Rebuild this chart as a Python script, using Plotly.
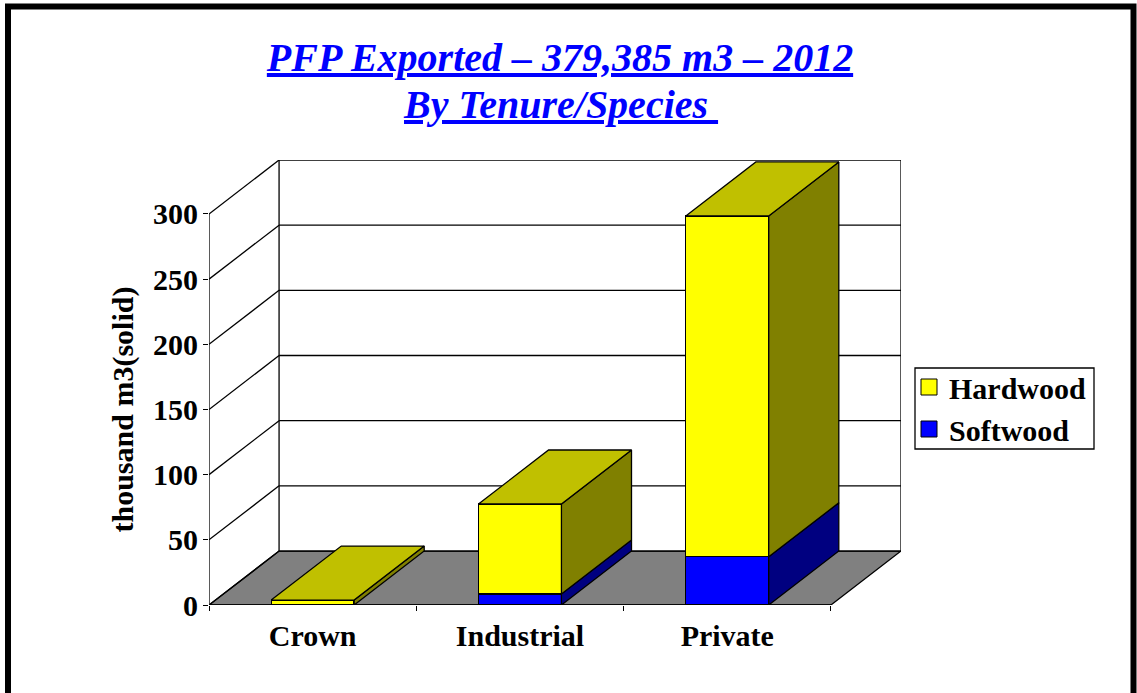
import plotly.graph_objects as go

categories = ["Crown", "Industrial", "Private"]
softwood = [0.0, 8.5, 37.0]
hardwood = [3.8, 69.0, 261.5]
y_ticks = [0, 50, 100, 150, 200, 250, 300]

# Depth of the pseudo-3D box, in axis units
DX = 0.338
DY = 41.4
BAR_W = 0.4
XL, XR = -0.5, 2.5
YMAX = 300
FONT = "Liberation Serif"
W, H = 1137, 693
L, R, T, B = 209, 901, 160, 605
LW = 1.3

fig = go.Figure()


def px(p):
    return (p - L) / (R - L)


def py(p):
    return (B - p) / (B - T)


def line(x0, y0, x1, y1, color="black", width=LW, layer="below"):
    fig.add_shape(type="line", x0=x0, y0=y0, x1=x1, y1=y1, xref="x", yref="y",
                  layer=layer, line=dict(color=color, width=width))


# Floor
fig.add_shape(type="path", xref="x", yref="y", layer="below",
              path=f"M{XL},0 L{XL+DX},{DY} L{XR+DX},{DY} L{XR},0 Z",
              fillcolor="#808080", line=dict(color="black", width=LW))
# Back wall, side wall and gridlines
for v in y_ticks:
    line(XL, v, XL + DX, v + DY)
    line(XL + DX, v + DY, XR + DX, v + DY)
line(XL + DX, DY, XL + DX, YMAX + DY)
line(XR + DX, DY, XR + DX, YMAX + DY)
line(XL, 0, XL, YMAX)
line(XL, 0, XR, 0, layer="above")


def face(xs, ys, color):
    fig.add_trace(go.Scatter(x=xs, y=ys, mode="lines", fill="toself", fillcolor=color,
                             line=dict(color="black", width=LW), showlegend=False,
                             hoverinfo="skip"))


# Front faces
fig.add_trace(go.Bar(x=list(range(3)), y=softwood, width=BAR_W, marker=dict(color="#0000FF", line=dict(color="black", width=LW)), showlegend=False, name="Softwood"))
fig.add_trace(go.Bar(x=list(range(3)), y=hardwood, width=BAR_W, marker=dict(color="#FFFF00", line=dict(color="black", width=LW)), showlegend=False, name="Hardwood"))

# Side and top faces
for i in range(3):
    s, h = softwood[i], softwood[i] + hardwood[i]
    xl, xr = i - BAR_W / 2, i + BAR_W / 2
    if s > 0:
        face([xr, xr + DX, xr + DX, xr, xr], [0, DY, s + DY, s, 0], "#000080")
    face([xr, xr + DX, xr + DX, xr, xr], [s, s + DY, h + DY, h, s], "#808000")
    face([xl, xl + DX, xr + DX, xr, xl], [h, h + DY, h + DY, h, h], "#C0C000")

# Legend entries
for name, color in (("Hardwood", "#FFFF00"), ("Softwood", "#0000FF")):
    fig.add_trace(go.Scatter(x=[None], y=[None], mode="markers", name=name,
                             marker=dict(symbol="square", size=16, color=color,
                                         line=dict(color="black", width=1))))

# Outer frame
fig.add_shape(type="rect", xref="paper", yref="paper", layer="below",
              x0=px(8), x1=px(1133.5), y0=py(720), y1=py(6.5),
              line=dict(color="black", width=6))
# Legend box
fig.add_shape(type="rect", xref="paper", yref="paper", layer="below",
              x0=px(915), x1=px(1094), y0=py(449), y1=py(368),
              fillcolor="white", line=dict(color="black", width=LW))

fig.add_annotation(text="thousand m3(solid)", xref="paper", yref="paper",
                   x=px(122), y=py(409.5), textangle=-90, xanchor="center", yanchor="middle",
                   showarrow=False, font=dict(family=FONT, size=30, color="black", weight="bold"))
fig.add_annotation(text="<b><i><u>By Tenure/Species\u00a0</u></i></b>", xref="paper", yref="paper",
                   x=px(560), y=py(105), xanchor="center", yanchor="middle",
                   showarrow=False, font=dict(family=FONT, size=40, color="#0000FF"))

fig.update_layout(
    width=W, height=H, autosize=False,
    margin=dict(l=L, r=W - R, t=T, b=H - B, pad=0),
    paper_bgcolor="white", plot_bgcolor="rgba(0,0,0,0)",
    barmode="stack",
    title=dict(text="<b><i><u>PFP Exported – 379,385 m3 – 2012</u></i></b>",
               x=560 / W, xref="container", xanchor="center",
               y=1 - 57 / H, yref="container", yanchor="middle",
               font=dict(family=FONT, size=40, color="#0000FF")),
    xaxis=dict(range=[XL, XR + DX], tickmode="array", tickvals=[0, 1, 2], ticktext=categories,
               ticks="", showgrid=False, zeroline=False, showline=False, ticklabelstandoff=10,
               tickfont=dict(family=FONT, size=30, color="black", weight="bold"),
               minor=dict(tickmode="array", tickvals=[-0.5, 0.5, 1.5, 2.5], ticks="outside",
                          ticklen=5, tickcolor="black", tickwidth=1, showgrid=False)),
    yaxis=dict(range=[0, YMAX + DY], tickmode="array", tickvals=y_ticks, ticks="outside",
               ticklen=5, tickcolor="black", tickwidth=1, showgrid=False, zeroline=False,
               showline=False, ticklabelstandoff=-1,
               tickfont=dict(family=FONT, size=30, color="black", weight="bold")),
    legend=dict(x=px(909), y=py(361), xanchor="left", yanchor="top", traceorder="normal",
                bgcolor="rgba(0,0,0,0)", borderwidth=0, itemsizing="trace",
                font=dict(family=FONT, size=30, color="black", weight="bold"), itemwidth=30),
)
fig.write_html("out.html", config={"displayModeBar": False},
               post_script="document.body.style.margin='0';document.body.style.overflow='hidden';")
